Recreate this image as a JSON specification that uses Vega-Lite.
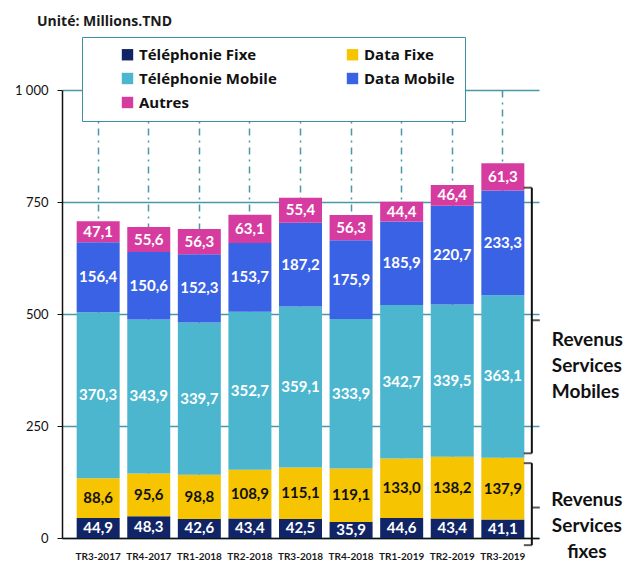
{
  "$schema": "https://vega.github.io/schema/vega-lite/v6.json",
  "width": 477,
  "height": 448,
  "autosize": {"type": "none"},
  "padding": {"left": 62, "top": 90, "right": 91, "bottom": 26},
  "background": "white",
  "config": {
    "locale": {"number": {"decimal": ",", "thousands": " ", "grouping": [3], "currency": ["", ""]}},
    "view": {"stroke": null},
    "font": "Lato"
  },
  "title": {
    "text": "Unité: Millions.TND",
    "anchor": "start",
    "frame": "group",
    "dx": -25,
    "offset": 8,
    "fontSize": 14,
    "fontWeight": "bold",
    "color": "#1a1a1a",
    "font": "Open Sans"
  },
  "data": {
    "values": [
      {"trimestre": "TR3-2017", "categorie": "Téléphonie Fixe", "ordre": 1, "valeur": 44.9},
      {"trimestre": "TR3-2017", "categorie": "Data Fixe", "ordre": 2, "valeur": 88.6},
      {"trimestre": "TR3-2017", "categorie": "Téléphonie Mobile", "ordre": 3, "valeur": 370.3},
      {"trimestre": "TR3-2017", "categorie": "Data Mobile", "ordre": 4, "valeur": 156.4},
      {"trimestre": "TR3-2017", "categorie": "Autres", "ordre": 5, "valeur": 47.1},
      {"trimestre": "TR4-2017", "categorie": "Téléphonie Fixe", "ordre": 1, "valeur": 48.3},
      {"trimestre": "TR4-2017", "categorie": "Data Fixe", "ordre": 2, "valeur": 95.6},
      {"trimestre": "TR4-2017", "categorie": "Téléphonie Mobile", "ordre": 3, "valeur": 343.9},
      {"trimestre": "TR4-2017", "categorie": "Data Mobile", "ordre": 4, "valeur": 150.6},
      {"trimestre": "TR4-2017", "categorie": "Autres", "ordre": 5, "valeur": 55.6},
      {"trimestre": "TR1-2018", "categorie": "Téléphonie Fixe", "ordre": 1, "valeur": 42.6},
      {"trimestre": "TR1-2018", "categorie": "Data Fixe", "ordre": 2, "valeur": 98.8},
      {"trimestre": "TR1-2018", "categorie": "Téléphonie Mobile", "ordre": 3, "valeur": 339.7},
      {"trimestre": "TR1-2018", "categorie": "Data Mobile", "ordre": 4, "valeur": 152.3},
      {"trimestre": "TR1-2018", "categorie": "Autres", "ordre": 5, "valeur": 56.3},
      {"trimestre": "TR2-2018", "categorie": "Téléphonie Fixe", "ordre": 1, "valeur": 43.4},
      {"trimestre": "TR2-2018", "categorie": "Data Fixe", "ordre": 2, "valeur": 108.9},
      {"trimestre": "TR2-2018", "categorie": "Téléphonie Mobile", "ordre": 3, "valeur": 352.7},
      {"trimestre": "TR2-2018", "categorie": "Data Mobile", "ordre": 4, "valeur": 153.7},
      {"trimestre": "TR2-2018", "categorie": "Autres", "ordre": 5, "valeur": 63.1},
      {"trimestre": "TR3-2018", "categorie": "Téléphonie Fixe", "ordre": 1, "valeur": 42.5},
      {"trimestre": "TR3-2018", "categorie": "Data Fixe", "ordre": 2, "valeur": 115.1},
      {"trimestre": "TR3-2018", "categorie": "Téléphonie Mobile", "ordre": 3, "valeur": 359.1},
      {"trimestre": "TR3-2018", "categorie": "Data Mobile", "ordre": 4, "valeur": 187.2},
      {"trimestre": "TR3-2018", "categorie": "Autres", "ordre": 5, "valeur": 55.4},
      {"trimestre": "TR4-2018", "categorie": "Téléphonie Fixe", "ordre": 1, "valeur": 35.9},
      {"trimestre": "TR4-2018", "categorie": "Data Fixe", "ordre": 2, "valeur": 119.1},
      {"trimestre": "TR4-2018", "categorie": "Téléphonie Mobile", "ordre": 3, "valeur": 333.9},
      {"trimestre": "TR4-2018", "categorie": "Data Mobile", "ordre": 4, "valeur": 175.9},
      {"trimestre": "TR4-2018", "categorie": "Autres", "ordre": 5, "valeur": 56.3},
      {"trimestre": "TR1-2019", "categorie": "Téléphonie Fixe", "ordre": 1, "valeur": 44.6},
      {"trimestre": "TR1-2019", "categorie": "Data Fixe", "ordre": 2, "valeur": 133.0},
      {"trimestre": "TR1-2019", "categorie": "Téléphonie Mobile", "ordre": 3, "valeur": 342.7},
      {"trimestre": "TR1-2019", "categorie": "Data Mobile", "ordre": 4, "valeur": 185.9},
      {"trimestre": "TR1-2019", "categorie": "Autres", "ordre": 5, "valeur": 44.4},
      {"trimestre": "TR2-2019", "categorie": "Téléphonie Fixe", "ordre": 1, "valeur": 43.4},
      {"trimestre": "TR2-2019", "categorie": "Data Fixe", "ordre": 2, "valeur": 138.2},
      {"trimestre": "TR2-2019", "categorie": "Téléphonie Mobile", "ordre": 3, "valeur": 339.5},
      {"trimestre": "TR2-2019", "categorie": "Data Mobile", "ordre": 4, "valeur": 220.7},
      {"trimestre": "TR2-2019", "categorie": "Autres", "ordre": 5, "valeur": 46.4},
      {"trimestre": "TR3-2019", "categorie": "Téléphonie Fixe", "ordre": 1, "valeur": 41.1},
      {"trimestre": "TR3-2019", "categorie": "Data Fixe", "ordre": 2, "valeur": 137.9},
      {"trimestre": "TR3-2019", "categorie": "Téléphonie Mobile", "ordre": 3, "valeur": 363.1},
      {"trimestre": "TR3-2019", "categorie": "Data Mobile", "ordre": 4, "valeur": 233.3},
      {"trimestre": "TR3-2019", "categorie": "Autres", "ordre": 5, "valeur": 61.3}
    ]
  },
  "encoding": {
    "x": {
      "field": "trimestre",
      "type": "nominal",
      "scale": {
        "domain": ["TR3-2017", "TR4-2017", "TR1-2018", "TR2-2018", "TR3-2018", "TR4-2018", "TR1-2019", "TR2-2019", "TR3-2019"],
        "paddingInner": 0.15,
        "paddingOuter": 0.29
      },
      "axis": {
        "title": null,
        "labelAngle": 0,
        "labelFont": "Lato",
        "labelFontSize": 10,
        "labelFontWeight": "bold",
        "labelColor": "#1a1a1a",
        "labelPadding": 13,
        "labelOverlap": false,
        "ticks": false,
        "domainColor": "#111",
        "domainWidth": 1.5,
        "grid": true,
        "gridColor": "#4a97a8",
        "gridWidth": 1.5,
        "gridDash": [7, 5, 2, 5]
      }
    }
  },
  "layer": [
    {
      "mark": {"type": "bar"},
      "encoding": {
        "y": {
          "field": "valeur",
          "type": "quantitative",
          "aggregate": "sum",
          "stack": "zero",
          "scale": {"domain": [0, 1000], "nice": false},
          "axis": {
            "title": null,
            "values": [0, 250, 500, 750, 1000],
            "format": ",d",
            "labelFont": "Lato",
            "labelFontSize": 13,
            "labelColor": "#111",
            "labelPadding": 9,
            "tickSize": 5,
            "tickColor": "#111",
            "domainColor": "#111",
            "domainWidth": 1.5,
            "grid": true,
            "gridColor": "#4a97a8",
            "gridWidth": 1.5
          }
        },
        "color": {
          "field": "categorie",
          "type": "nominal",
          "scale": {
            "domain": ["Téléphonie Fixe", "Téléphonie Mobile", "Autres", "Data Fixe", "Data Mobile"],
            "range": ["#112466", "#4cb6cf", "#d63c9f", "#f6c400", "#3a62e4"]
          },
          "legend": {
            "title": null,
            "orient": "none",
            "legendX": 20,
            "legendY": -53,
            "columns": 2,
            "gridAlign": "all",
            "columnPadding": 40,
            "rowPadding": 8,
            "padding": 10,
            "symbolType": "square",
            "symbolSize": 130,
            "symbolStrokeWidth": 0,
            "symbolOffset": 28,
            "labelOffset": 4,
            "labelFont": "Open Sans",
            "labelFontSize": 15,
            "labelFontWeight": "bold",
            "labelColor": "#111",
            "labelLimit": 300,
            "strokeColor": "#3a8fa0",
            "fillColor": "white"
          }
        },
        "order": {"field": "ordre", "type": "quantitative"}
      }
    },
    {
      "transform": [
        {"stack": "valeur", "groupby": ["trimestre"], "sort": [{"field": "ordre"}], "as": ["y0", "y1"]},
        {"calculate": "(datum.y0 + datum.y1) / 2", "as": "milieu"}
      ],
      "mark": {"type": "text", "font": "Lato", "fontSize": 15, "fontWeight": "bold", "baseline": "middle"},
      "encoding": {
        "y": {"field": "milieu", "type": "quantitative"},
        "text": {"field": "valeur", "type": "quantitative", "format": ".1f"},
        "color": {
          "condition": {"test": "datum.categorie === 'Data Fixe'", "value": "#111111"},
          "value": "white"
        }
      }
    },
    {
      "data": {
        "values": [
          {"trimestre": "TR3-2019", "groupe": "mobile", "debut": 189, "fin": 782, "milieu": 486},
          {"trimestre": "TR3-2019", "groupe": "fixe", "debut": -16, "fin": 167, "milieu": 68}
        ]
      },
      "layer": [
        {
          "mark": {"type": "rule", "xOffset": 29, "strokeWidth": 2, "color": "#111"},
          "encoding": {
            "y": {"field": "debut", "type": "quantitative"},
            "y2": {"field": "fin"}
          }
        },
        {
          "mark": {"type": "tick", "orient": "horizontal", "xOffset": 25, "size": 8, "thickness": 2, "color": "#111"},
          "encoding": {"y": {"field": "debut", "type": "quantitative"}}
        },
        {
          "mark": {"type": "tick", "orient": "horizontal", "xOffset": 25, "size": 8, "thickness": 2, "color": "#111"},
          "encoding": {"y": {"field": "fin", "type": "quantitative"}}
        },
        {
          "mark": {"type": "tick", "orient": "horizontal", "xOffset": 33, "size": 8, "thickness": 2, "color": "#111"},
          "encoding": {"y": {"field": "milieu", "type": "quantitative"}}
        }
      ]
    },
    {
      "data": {"values": [{"trimestre": "TR3-2019", "y": 442, "texte": "Revenus\nServices\nMobiles"}]},
      "mark": {"type": "text", "align": "left", "baseline": "middle", "dx": 49, "font": "Lato", "fontSize": 19, "fontWeight": "bold", "lineHeight": 26, "lineBreak": "\n", "color": "#111"},
      "encoding": {
        "y": {"field": "y", "type": "quantitative"},
        "text": {"field": "texte"}
      }
    },
    {
      "data": {"values": [{"trimestre": "TR3-2019", "y": 85, "texte": "Revenus\nServices\nfixes"}]},
      "mark": {"type": "text", "align": "center", "baseline": "middle", "dx": 84, "font": "Lato", "fontSize": 19, "fontWeight": "bold", "lineHeight": 26, "lineBreak": "\n", "color": "#111"},
      "encoding": {
        "y": {"field": "y", "type": "quantitative"},
        "text": {"field": "texte"}
      }
    }
  ]
}
